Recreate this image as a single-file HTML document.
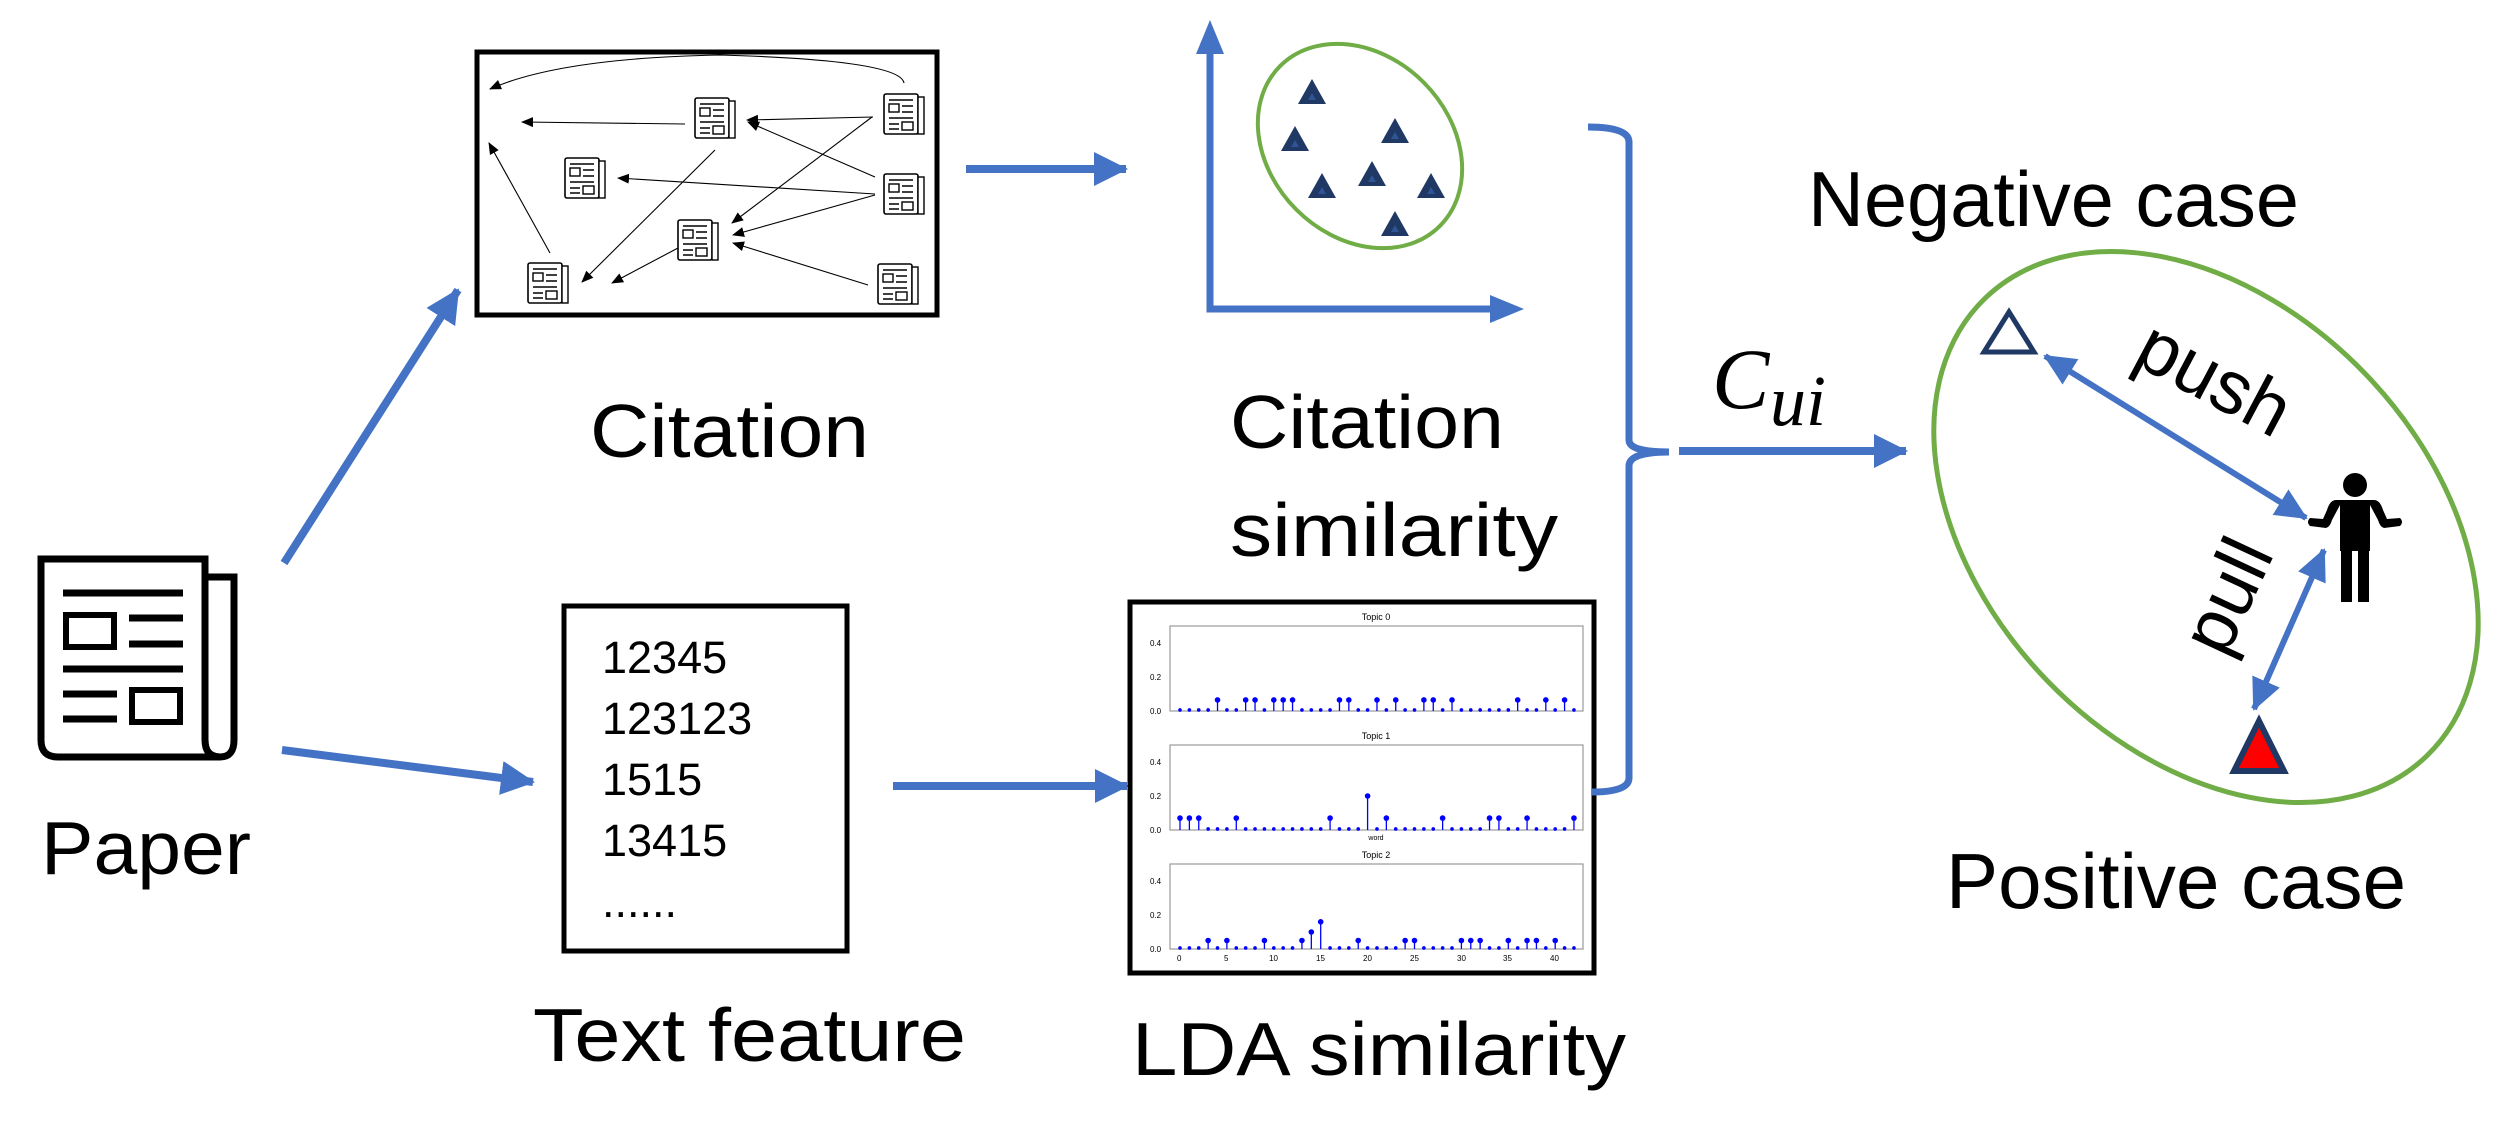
<!DOCTYPE html>
<html><head><meta charset="utf-8"><style>
html,body{margin:0;padding:0;background:#fff}
svg{display:block}
text{font-family:"Liberation Sans",sans-serif;fill:#000}
</style></head><body>
<svg id="s" width="2509" height="1121" viewBox="0 0 2509 1121" xmlns="http://www.w3.org/2000/svg">
<defs>
<marker id="ba" markerUnits="userSpaceOnUse" markerWidth="34" markerHeight="34" refX="32" refY="17" orient="auto"><path d="M0,0 L34,17 L0,34 z" fill="#4472C4"/></marker>
<marker id="bs" markerUnits="userSpaceOnUse" markerWidth="32" markerHeight="30" refX="30" refY="15" orient="auto-start-reverse"><path d="M0,0 L32,15 L0,30 z" fill="#4472C4"/></marker>
<marker id="ka" markerUnits="userSpaceOnUse" markerWidth="12" markerHeight="10" refX="11" refY="5" orient="auto"><path d="M0,0 L12,5 L0,10 z" fill="#000"/></marker>
<g id="np">
<rect x="0" y="0" width="34" height="40" rx="2" fill="#fff" stroke="#000" stroke-width="1.6"/>
<rect x="34" y="3" width="6" height="37" fill="#fff" stroke="#000" stroke-width="1.4"/>
<path d="M5,6H29M5,24H29M18,12H29M18,18H29M5,30H15M5,35H15" stroke="#000" stroke-width="1.6"/>
<rect x="5" y="10" width="10" height="8" fill="none" stroke="#000" stroke-width="1.4"/>
<rect x="18" y="28" width="11" height="8" fill="none" stroke="#000" stroke-width="1.4"/>
</g>
<g id="st"><path d="M-14,12 L0,-13 L14,12 z" fill="#1F3864"/><path d="M-4,8 L0,1 L4,8 z" fill="#2F5597"/></g>
</defs>

<g fill="none" stroke="#000" stroke-width="7">
<path d="M205,577 H234 V740 Q234,757 220,757 Q205,757 205,740 Z"/>
<path d="M41,559 H205 V740 Q205,757 220,757 H58 Q41,757 41,740 Z" fill="#fff"/>
<path d="M63,593H183M129,618H183M129,644H183M63,669H183M63,694H117M63,719H117"/>
<rect x="66" y="615" width="48" height="32" stroke-width="6"/>
<rect x="132" y="690" width="48" height="32" stroke-width="6"/>
</g>
<text x="41" y="874" font-size="75" textLength="210" lengthAdjust="spacingAndGlyphs">Paper</text>

<line x1="284" y1="563" x2="458" y2="290" stroke="#4472C4" stroke-width="8" marker-end="url(#ba)"/>
<line x1="282" y1="750" x2="533" y2="782" stroke="#4472C4" stroke-width="8" marker-end="url(#ba)"/>

<rect x="477" y="52" width="460" height="263" fill="#fff" stroke="#000" stroke-width="5"/>
<g fill="none" stroke="#000" stroke-width="1.1">
<path d="M904,83 Q900,60 720,55 Q560,58 490,89" marker-end="url(#ka)"/>
<line x1="685" y1="124" x2="522" y2="122" marker-end="url(#ka)"/>
<line x1="873" y1="117" x2="747" y2="120" marker-end="url(#ka)"/>
<line x1="875" y1="177" x2="748" y2="122" marker-end="url(#ka)"/>
<line x1="872" y1="117" x2="732" y2="223" marker-end="url(#ka)"/>
<line x1="875" y1="194" x2="618" y2="178" marker-end="url(#ka)"/>
<line x1="875" y1="195" x2="733" y2="235" marker-end="url(#ka)"/>
<line x1="868" y1="285" x2="733" y2="243" marker-end="url(#ka)"/>
<line x1="715" y1="150" x2="582" y2="282" marker-end="url(#ka)"/>
<line x1="678" y1="248" x2="612" y2="283" marker-end="url(#ka)"/>
<line x1="550" y1="253" x2="489" y2="143" marker-end="url(#ka)"/>
</g>
<use href="#np" x="695" y="98"/>
<use href="#np" x="884" y="94"/>
<use href="#np" x="565" y="158"/>
<use href="#np" x="884" y="174"/>
<use href="#np" x="678" y="220"/>
<use href="#np" x="528" y="263"/>
<use href="#np" x="878" y="264"/>
<text x="590" y="457" font-size="75" textLength="279" lengthAdjust="spacingAndGlyphs">Citation</text>

<rect x="564" y="606" width="283" height="345" fill="#fff" stroke="#000" stroke-width="5"/>
<g font-size="45">
<text x="602" y="673">12345</text>
<text x="602" y="734">123123</text>
<text x="602" y="795">1515</text>
<text x="602" y="856">13415</text>
<text x="602" y="917">......</text>
</g>
<text x="533" y="1061" font-size="75" textLength="433" lengthAdjust="spacingAndGlyphs">Text feature</text>

<line x1="966" y1="169" x2="1126" y2="169" stroke="#4472C4" stroke-width="8" marker-end="url(#ba)"/>
<line x1="893" y1="786" x2="1127" y2="786" stroke="#4472C4" stroke-width="8" marker-end="url(#ba)"/>

<path d="M1210,52 V309 H1495" fill="none" stroke="#4472C4" stroke-width="7"/>
<path d="M1196,54 L1210,20 L1224,54 z" fill="#4472C4"/>
<path d="M1490,295 L1524,309 L1490,323 z" fill="#4472C4"/>
<ellipse cx="1360" cy="146" rx="113" ry="90" transform="rotate(45 1360 146)" fill="none" stroke="#70AD47" stroke-width="4"/>
<use href="#st" x="1312" y="92"/>
<use href="#st" x="1295" y="139"/>
<use href="#st" x="1395" y="131"/>
<use href="#st" x="1322" y="186"/>
<use href="#st" x="1372" y="174"/>
<use href="#st" x="1431" y="186"/>
<use href="#st" x="1395" y="224"/>
<text x="1230" y="448" font-size="75" textLength="274" lengthAdjust="spacingAndGlyphs">Citation</text>
<text x="1230" y="556" font-size="75" textLength="328" lengthAdjust="spacingAndGlyphs">similarity</text>

<rect x="1130" y="602" width="464" height="371" fill="#fff" stroke="#000" stroke-width="5"/>
<g id="lda" fill="none" stroke="#999" stroke-width="1.2">
<rect x="1170" y="626" width="413" height="85"/>
<rect x="1170" y="745" width="413" height="85"/>
<rect x="1170" y="864" width="413" height="85"/>
</g>
<g font-size="8" fill="#333">
<text x="1376" y="620" text-anchor="middle" font-size="9">Topic 0</text>
<text x="1376" y="739" text-anchor="middle" font-size="9">Topic 1</text>
<text x="1376" y="858" text-anchor="middle" font-size="9">Topic 2</text>
<text x="1376" y="840" text-anchor="middle" font-size="7">word</text>
<text x="1150" y="646">0.4</text><text x="1150" y="680">0.2</text><text x="1150" y="714">0.0</text>
<text x="1150" y="765">0.4</text><text x="1150" y="799">0.2</text><text x="1150" y="833">0.0</text>
<text x="1150" y="884">0.4</text><text x="1150" y="918">0.2</text><text x="1150" y="952">0.0</text>
<text x="1177" y="961">0</text><text x="1224" y="961">5</text><text x="1269" y="961">10</text><text x="1316" y="961">15</text><text x="1363" y="961">20</text><text x="1410" y="961">25</text><text x="1457" y="961">30</text><text x="1503" y="961">35</text><text x="1550" y="961">40</text>
</g>
<text x="1132" y="1075" font-size="75" textLength="494" lengthAdjust="spacingAndGlyphs">LDA similarity</text>

<path d="M1588,127 Q1629,127 1629,142 L1629,440 Q1629,452 1669,452 Q1629,452 1629,466 L1629,778 Q1629,792 1592,792" fill="none" stroke="#4472C4" stroke-width="7"/>
<line x1="1679" y1="451" x2="1906" y2="451" stroke="#4472C4" stroke-width="8" marker-end="url(#ba)"/>
<text x="1712" y="408" font-size="86" font-style="italic" style="font-family:'Liberation Serif',serif">C</text>
<text x="1770" y="425" font-size="72" font-style="italic" style="font-family:'Liberation Serif',serif">ui</text>

<text x="1808" y="226" font-size="78" textLength="491" lengthAdjust="spacingAndGlyphs">Negative case</text>
<text x="1946" y="908" font-size="78" textLength="460" lengthAdjust="spacingAndGlyphs">Positive case</text>

<ellipse cx="2206" cy="527" rx="318" ry="221" transform="rotate(46 2206 527)" fill="none" stroke="#70AD47" stroke-width="5"/>
<path d="M2009,312 L2034,352 L1984,352 z" fill="none" stroke="#1F3864" stroke-width="5"/>
<path d="M2259,721 L2284,771 L2234,771 z" fill="#FF0000" stroke="#1F3864" stroke-width="6"/>
<line x1="2045" y1="356" x2="2306" y2="518" stroke="#4472C4" stroke-width="6" marker-start="url(#bs)" marker-end="url(#bs)"/>
<line x1="2324" y1="550" x2="2254" y2="709" stroke="#4472C4" stroke-width="6" marker-start="url(#bs)" marker-end="url(#bs)"/>
<g fill="#000">
<circle cx="2355" cy="485" r="12"/>
<path d="M2336,500 H2374 Q2380,500 2383,510 L2387,519 L2400,518 Q2404,522 2400,526 L2384,528 Q2380,527 2378,520 L2370,505 V551 H2340 V505 L2332,520 Q2330,527 2326,528 L2310,526 Q2306,522 2310,518 L2323,519 L2327,510 Q2330,500 2336,500 Z"/>
<rect x="2341" y="549" width="11" height="53"/>
<rect x="2358" y="549" width="11" height="53"/>
</g>
<text font-size="75" text-anchor="middle" transform="translate(2212,383) rotate(28)" y="20">push</text>
<text font-size="75" text-anchor="middle" transform="translate(2232,598) rotate(-65)" y="20">pull</text>
</svg>
<script>
(function(){
var ns="http://www.w3.org/2000/svg",s=document.getElementById('s');
var data=[
{b:711,h:{4:.065,7:.065,8:.065,10:.065,11:.065,12:.065,17:.065,18:.065,21:.065,23:.065,26:.065,27:.065,29:.065,36:.065,39:.065,41:.065}},
{b:830,h:{0:.07,1:.07,2:.07,6:.07,16:.07,20:.2,22:.07,28:.07,33:.07,34:.07,37:.07,42:.07}},
{b:949,h:{3:.05,5:.05,9:.05,13:.05,14:.1,15:.16,19:.05,24:.05,25:.05,30:.05,31:.05,32:.05,35:.05,37:.05,38:.05,40:.05}}];
data.forEach(function(d){
for(var i=0;i<43;i++){
var v=d.h[i]||0.006,x=1180+i*9.38,y=d.b-v*170;
var l=document.createElementNS(ns,'line');
l.setAttribute('x1',x);l.setAttribute('x2',x);l.setAttribute('y1',d.b);l.setAttribute('y2',y);
l.setAttribute('stroke','#0000ff');l.setAttribute('stroke-width','1.3');s.appendChild(l);
var c=document.createElementNS(ns,'circle');
c.setAttribute('cx',x);c.setAttribute('cy',y);c.setAttribute('r',v>0.01?2.8:1.8);c.setAttribute('fill','#0000ff');s.appendChild(c);
}});
})();
</script>
</body></html>
